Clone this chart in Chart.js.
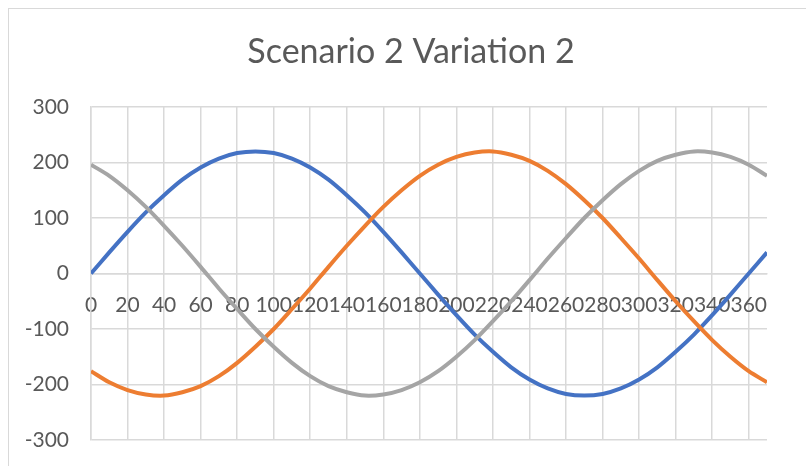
<!DOCTYPE html>
<html>
<head>
<meta charset="utf-8">
<title>Scenario 2 Variation 2</title>
<script src="https://cdn.jsdelivr.net/npm/chart.js@4/dist/chart.umd.min.js"></script>
<style>
  html, body { margin: 0; padding: 0; background: #fff; overflow: hidden; }
  #frame {
    position: absolute; left: 8px; top: 8px;
    width: 900px; height: 600px;
    border: 1px solid #d9d9d9;
  }
  #chart { position: absolute; left: 0; top: 0; }
</style>
</head>
<body>
<div id="frame"></div>
<canvas id="chart" width="806" height="466"></canvas>
<script>
// Angle in degrees, every 10
const angles = [0, 10, 20, 30, 40, 50, 60, 70, 80, 90, 100, 110, 120, 130, 140, 150, 160, 170, 180,
  190, 200, 210, 220, 230, 240, 250, 260, 270, 280, 290, 300, 310, 320, 330, 340, 350, 360, 370];

const seriesBlue = [0, 38, 75, 110, 141, 169, 191, 207, 217, 220, 217, 207, 191, 169, 141, 110, 75, 38, 0,
  -38, -75, -110, -141, -169, -191, -207, -217, -220, -217, -207, -191, -169, -141, -110, -75, -38, 0, 38];

const seriesOrange = [-176, -196, -210, -218, -220, -214, -203, -185, -161, -132, -100, -64, -27, 12, 50, 86, 120, 150, 176,
  196, 210, 218, 220, 214, 203, 185, 161, 132, 100, 64, 27, -12, -50, -86, -120, -150, -176, -196];

const seriesGray = [196, 176, 150, 120, 86, 50, 12, -27, -64, -100, -132, -161, -185, -203, -214, -220, -218, -210, -196,
  -176, -150, -120, -86, -50, -12, 27, 64, 100, 132, 161, 185, 203, 214, 220, 218, 210, 196, 176];

const xTickStep = 20;
const yTicks = [-300, -200, -100, 0, 100, 200, 300];

const textColor = '#595959';
const gridColor = '#d9d9d9';

function points(values) {
  return angles.map((a, i) => ({ x: a, y: values[i] }));
}

function lineSet(label, values, color, order) {
  return {
    label: label,
    data: points(values),
    borderColor: color,
    backgroundColor: color,
    borderWidth: 4,
    pointRadius: 0,
    tension: 0.3,
    fill: false,
    order: order
  };
}

const ctx = document.getElementById('chart').getContext('2d');
const chart = new Chart(ctx, {
  type: 'line',
  data: {
    datasets: [
      lineSet('Series1', seriesBlue, '#4472c4', 2),
      lineSet('Series2', seriesOrange, '#ed7d31', 1),
      lineSet('Series3', seriesGray, '#a5a5a5', 0)
    ]
  },
  options: {
    responsive: false,
    animation: false,
    events: [],
    // left padding keeps the title centred on the outer frame
    layout: { padding: { left: 16, right: 0, top: 0, bottom: 26 } },
    plugins: {
      legend: { display: false },
      tooltip: { enabled: false },
      title: {
        display: true,
        text: 'Scenario 2 Variation 2',
        color: textColor,
        font: { family: 'Lato', size: 34, weight: 'normal' },
        padding: { top: 31.6, bottom: 34.6 }
      }
    },
    scales: {
      x: {
        type: 'linear',
        position: { y: 0 },
        min: angles[0],
        max: angles[angles.length - 1],
        afterFit(scale) { scale.height = 0; },
        grid: { color: gridColor, lineWidth: 1.5, drawTicks: false },
        border: { color: gridColor, width: 1.5 },
        ticks: {
          stepSize: xTickStep,
          includeBounds: false,
          autoSkip: false,
          maxRotation: 0,
          minRotation: 0,
          padding: 19,
          color: textColor,
          font: { family: 'Lato', size: 21 }
        }
      },
      y: {
        min: yTicks[0],
        max: yTicks[yTicks.length - 1],
        afterFit(scale) { scale.width = 75; },
        grid: { color: gridColor, lineWidth: 1.5, drawTicks: true, tickLength: 22, tickColor: 'rgba(0,0,0,0)' },
        border: { color: gridColor, width: 1.5 },
        afterBuildTicks(scale) { scale.ticks = yTicks.map(v => ({ value: v })); },
        ticks: {
          padding: 0,
          color: textColor,
          font: { family: 'Lato', size: 21 }
        }
      },
      // empty strip on the right of the plot
      yRight: {
        position: 'right',
        afterFit(scale) { scale.width = 39; },
        grid: { display: false, drawOnChartArea: false },
        border: { display: false },
        ticks: { display: false }
      }
    }
  }
});
</script>
</body>
</html>
